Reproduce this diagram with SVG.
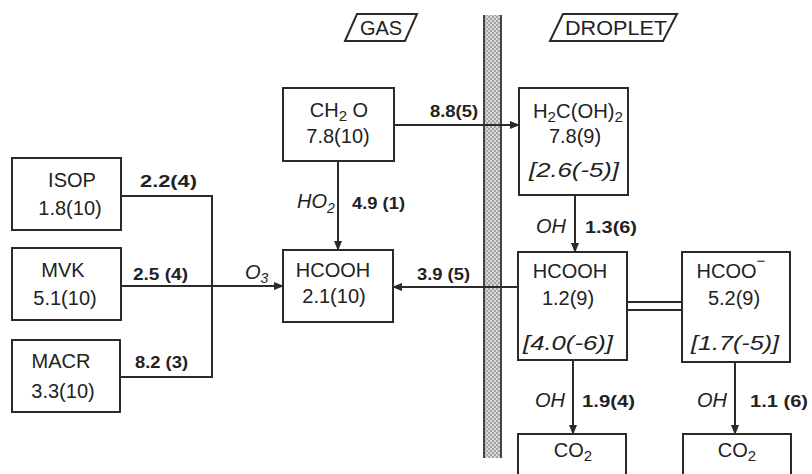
<svg xmlns="http://www.w3.org/2000/svg" width="812" height="474" viewBox="0 0 812 474">
<style>
.box{fill:#fff;stroke:#2a2a2a;stroke-width:2}
.t{font-family:"Liberation Sans","DejaVu Sans",sans-serif;font-size:20px;fill:#222;text-anchor:middle}
.it{font-family:"Liberation Sans","DejaVu Sans",sans-serif;font-size:21px;font-style:italic;fill:#222;text-anchor:middle}
.lab{font-family:"Liberation Sans","DejaVu Sans",sans-serif;font-size:16px;font-weight:bold;fill:#222}
.ilab{font-family:"Liberation Sans","DejaVu Sans",sans-serif;font-size:20px;font-style:italic;fill:#1e1e1e}
.ln{fill:none;stroke:#2a2a2a;stroke-width:2}
.tag{fill:#fff;stroke:#2a2a2a;stroke-width:2}
</style>
<defs>
<marker id="ah" markerWidth="10" markerHeight="8" refX="9" refY="4" orient="auto" markerUnits="userSpaceOnUse">
<path d="M0,0 L10,4 L0,8 Z" fill="#2a2a2a"/>
</marker>
<pattern id="dots" width="4" height="4" patternUnits="userSpaceOnUse">
<rect width="4" height="4" fill="#d8d8d8"/>
<circle cx="1" cy="1" r="0.9" fill="#8a8a8a"/>
<circle cx="3" cy="3" r="0.9" fill="#8a8a8a"/>
</pattern>
</defs>
<rect width="812" height="474" fill="#fff"/>

<!-- membrane -->
<g id="membrane">
<rect x="483" y="15" width="19" height="443" fill="url(#dots)"/>
<line x1="484" y1="15" x2="484" y2="458" stroke="#444" stroke-width="2"/>
<line x1="501" y1="15" x2="501" y2="458" stroke="#444" stroke-width="2"/>
</g>

<!-- phase labels -->
<g id="gas-label">
<polygon class="tag" points="357,14 417,14 405,41 345,41"/>
<text class="t" x="381" y="35" font-size="18">GAS</text>
</g>
<g id="droplet-label">
<polygon class="tag" points="563,14 677,14 663,41 550,41"/>
<text class="t" x="616" y="35" font-size="18" textLength="102" lengthAdjust="spacingAndGlyphs">DROPLET</text>
</g>

<!-- connectors -->
<g id="connectors">
<polyline class="ln" points="121,196 212,196 212,377 121,377"/>
<line class="ln" x1="121" y1="286" x2="283" y2="286" marker-end="url(#ah)"/>
<line class="ln" x1="338" y1="161" x2="338" y2="250" marker-end="url(#ah)"/>
<line class="ln" x1="394" y1="125" x2="519" y2="125" marker-end="url(#ah)"/>
<line class="ln" x1="518" y1="287" x2="393" y2="287" marker-end="url(#ah)"/>
<line class="ln" x1="575" y1="195" x2="575" y2="252" marker-end="url(#ah)"/>
<line class="ln" x1="627" y1="302" x2="682" y2="302"/>
<line class="ln" x1="627" y1="310" x2="682" y2="310"/>
<line class="ln" x1="573" y1="360" x2="573" y2="434" marker-end="url(#ah)"/>
<line class="ln" x1="735" y1="362" x2="735" y2="434" marker-end="url(#ah)"/>
<text class="lab" x="140" y="187" textLength="57" lengthAdjust="spacingAndGlyphs">2.2(4)</text>
<text class="lab" x="133" y="280" textLength="55" lengthAdjust="spacingAndGlyphs">2.5 (4)</text>
<text class="lab" x="135" y="368" textLength="53" lengthAdjust="spacingAndGlyphs">8.2 (3)</text>
<text class="ilab" x="245" y="279">O<tspan font-size="14" dy="4">3</tspan></text>
<text class="ilab" x="297" y="208">HO<tspan font-size="14" dy="5">2</tspan></text>
<text class="lab" x="352" y="209" textLength="53" lengthAdjust="spacingAndGlyphs">4.9 (1)</text>
<text class="lab" x="430" y="117" textLength="48" lengthAdjust="spacingAndGlyphs">8.8(5)</text>
<text class="lab" x="417" y="280" textLength="53" lengthAdjust="spacingAndGlyphs">3.9 (5)</text>
<text class="ilab" x="536" y="233">OH</text>
<text class="lab" x="585" y="233" textLength="52" lengthAdjust="spacingAndGlyphs">1.3(6)</text>
<text class="ilab" x="535" y="407">OH</text>
<text class="lab" x="582" y="407" textLength="53" lengthAdjust="spacingAndGlyphs">1.9(4)</text>
<text class="ilab" x="697" y="407">OH</text>
<text class="lab" x="750" y="407" textLength="58" lengthAdjust="spacingAndGlyphs">1.1 (6)</text>
</g>

<!-- gas phase nodes -->
<g id="isop">
<rect class="box" x="12" y="158" width="109" height="72"/>
<text class="t" x="72" y="187" font-size="21">ISOP</text>
<text class="t" x="70" y="215">1.8(10)</text>
</g>
<g id="mvk">
<rect class="box" x="12" y="248" width="109" height="72"/>
<text class="t" x="63" y="277">MVK</text>
<text class="t" x="65" y="305">5.1(10)</text>
</g>
<g id="macr">
<rect class="box" x="12" y="340" width="108" height="72"/>
<text class="t" x="61" y="368">MACR</text>
<text class="t" x="63" y="398">3.3(10)</text>
</g>
<g id="ch2o-gas">
<rect class="box" x="283" y="88" width="111" height="73"/>
<text class="t" x="339" y="117">CH<tspan font-size="15" dy="4">2</tspan><tspan dy="-4"> O</tspan></text>
<text class="t" x="338" y="143">7.8(10)</text>
</g>
<g id="hcooh-gas">
<rect class="box" x="283" y="250" width="110" height="72"/>
<text class="t" x="333" y="277">HCOOH</text>
<text class="t" x="334" y="303">2.1(10)</text>
</g>

<!-- droplet nodes -->
<g id="h2coh2">
<rect class="box" x="519" y="88" width="109" height="107"/>
<text class="t" x="578" y="118" textLength="90" lengthAdjust="spacingAndGlyphs">H<tspan font-size="15" dy="4">2</tspan><tspan dy="-4">C(OH)</tspan><tspan font-size="15" dy="4">2</tspan></text>
<text class="t" x="575" y="143">7.8(9)</text>
<text class="it" x="574" y="177" textLength="90" lengthAdjust="spacingAndGlyphs">[2.6(-5)]</text>
</g>
<g id="hcooh-aq">
<rect class="box" x="518" y="252" width="109" height="108"/>
<text class="t" x="570" y="278">HCOOH</text>
<text class="t" x="568" y="305">1.2(9)</text>
<text class="it" x="568" y="350" textLength="90" lengthAdjust="spacingAndGlyphs">[4.0(-6)]</text>
</g>
<g id="hcoo-aq">
<rect class="box" x="682" y="252" width="108" height="110"/>
<text class="t" x="731" y="278">HCOO<tspan font-size="15" dy="-12">−</tspan></text>
<text class="t" x="734" y="305">5.2(9)</text>
<text class="it" x="735" y="350" textLength="88" lengthAdjust="spacingAndGlyphs">[1.7(-5)]</text>
</g>
<g id="co2-a">
<rect class="box" x="518" y="434" width="108" height="50"/>
<text class="t" x="573" y="457">CO<tspan font-size="15" dy="4">2</tspan></text>
</g>
<g id="co2-b">
<rect class="box" x="683" y="434" width="108" height="50"/>
<text class="t" x="737" y="457">CO<tspan font-size="15" dy="4">2</tspan></text>
</g>
</svg>
